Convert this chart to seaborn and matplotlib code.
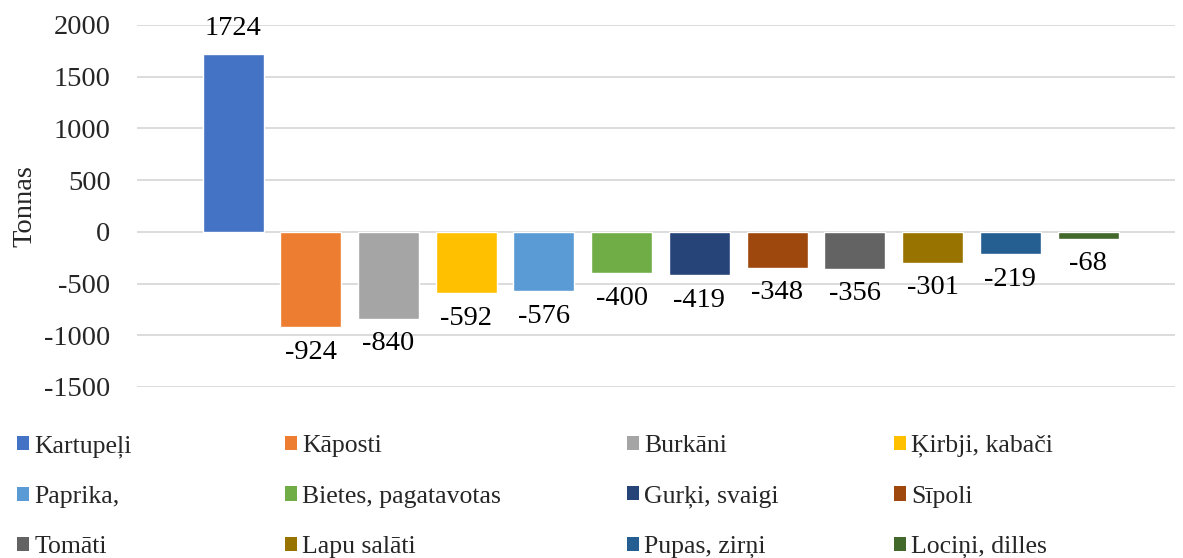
import matplotlib.pyplot as plt
import pandas as pd
import seaborn as sns
from matplotlib.patches import Patch

# Data
categories = ['Kartupeļi', 'Kāposti', 'Burkāni', 'Ķirbji, kabači',
              'Paprika,', 'Bietes, pagatavotas', 'Gurķi, svaigi', 'Sīpoli',
              'Tomāti', 'Lapu salāti', 'Pupas, zirņi', 'Lociņi, dilles']
values = [1724, -924, -840, -592, -576, -400, -419, -348, -356, -301, -219, -68]
colors = ['#4472C4', '#ED7D31', '#A5A5A5', '#FFC000', '#5B9BD5', '#70AD47',
          '#264478', '#9E480E', '#636363', '#997300', '#255E91', '#43682B']
y_ticks = [-1500, -1000, -500, 0, 500, 1000, 1500, 2000]

df = pd.DataFrame({'cat': categories, 'value': values})

sns.set_style('white')
plt.rcParams['font.family'] = ['Liberation Serif', 'DejaVu Serif']
fs = 20.5
fs_leg = 18.5

fig = plt.figure(figsize=(11.83, 5.58), dpi=100)
ax = fig.add_axes([0.1158, 0.3065, 0.8775, 0.6487])

sns.barplot(data=df, x='cat', y='value', hue='cat', palette=colors,
            order=categories, hue_order=categories, dodge=False,
            width=0.785, legend=False, ax=ax, zorder=3, saturation=1)

# data labels
for i, v in enumerate(values):
    off = 18 if v > 0 else -18
    ax.annotate(str(v), (i, v), xytext=(0, off), textcoords='offset points',
                ha='center', va='center', fontsize=fs, color='#000000')

ax.set_ylim(-1500, 2000)
ax.set_xlim(-1.236, 12.12)
ax.set_yticks(y_ticks)
ax.set_yticklabels([str(t) for t in y_ticks], fontsize=fs)
ax.set_xticks([])
ax.set_xlabel('')
ax.set_ylabel('Tonnas', fontsize=fs, labelpad=5)
ax.tick_params(axis='y', length=0, pad=19)
ax.grid(axis='y', color='#D9D9D9', linewidth=1.3, zorder=0)
ax.set_axisbelow(True)
for s in ax.spines.values():
    s.set_visible(False)

# legend: 4 columns laid out row by row, one legend per column
ncol = 4
col_x = [0.0144, 0.2409, 0.530, 0.7557]
for c in range(ncol):
    idx = list(range(c, len(categories), ncol))
    fig.legend([Patch(facecolor=colors[i], edgecolor='none') for i in idx],
               [categories[i] for i in idx],
               loc='center left', bbox_to_anchor=(col_x[c], 0.11),
               frameon=False, fontsize=fs_leg, handlelength=0.47,
               handleheight=0.47, handletextpad=0.2, labelspacing=1.1,
               borderpad=0, borderaxespad=0)

fig.savefig('out.png', dpi=100)
